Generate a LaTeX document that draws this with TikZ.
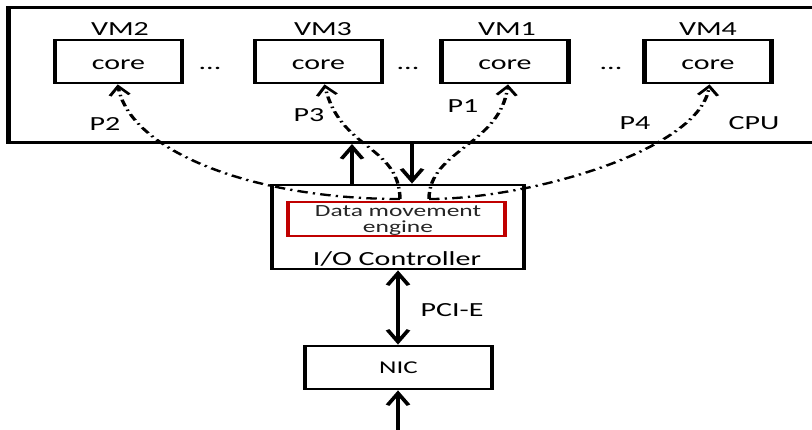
\documentclass[tikz,border=0pt]{standalone}
\usepackage{fontspec}
\setmainfont{Carlito}
\usetikzlibrary{arrows.meta}
\definecolor{engred}{RGB}{192,0,0}

\begin{document}
\begin{tikzpicture}[x=1pt,y=-1pt]
\useasboundingbox (0,0) rectangle (812,430);
% everything is drawn on a canvas stretched 1.5 times sideways;
% x coordinates below are given in final units (x = 1pt/1.5)
\begin{scope}[transform canvas={xscale=1.5}, x=0.666667pt,
  frame/.style={draw, line width=2.8pt, inner sep=0pt},
  corebox/.style={frame, minimum width=84.67pt, minimum height=43pt},
  lbl/.style={inner sep=0pt, anchor=base, font=\fontsize{20}{22}\selectfont},
  small/.style={inner sep=0pt, anchor=base, font=\fontsize{17}{19}\selectfont, text=black!85},
  bus/.style={line width=2.8pt},
  barb/.tip={Straight Barb[length=12pt,width=14pt]},
  flow/.style={line width=2.3pt, dash pattern=on 7pt off 3.5pt on 1.5pt off 3.5pt,
    -{Straight Barb[length=9pt,width=13pt,line width=2.2pt]}}
]
\clip (0,0) rectangle (812,430);

% CPU package
\node[frame, line width=3pt, anchor=north west, minimum width=560pt, minimum height=135pt] (cpu) at (6,6) {};
\node[lbl] (cpulbl) at (754,130) {CPU};

% cores with their VM labels
\node[corebox] (c2) at (118.5,61.5) {};
\node[corebox] (c3) at (318.5,61.5) {};
\node[corebox] (c1) at (505,61.5) {};
\node[corebox] (c4) at (708,61.5) {};
\node[lbl] (c2t) at (118.5,70) {core};
\node[lbl] (c3t) at (318.5,70) {core};
\node[lbl] (c1t) at (505,70) {core};
\node[lbl] (c4t) at (708,70) {core};
\node[lbl] (vm2) at (120,36) {VM2};
\node[lbl] (vm3) at (323,36) {VM3};
\node[lbl] (vm1) at (507,36) {VM1};
\node[lbl] (vm4) at (708,36) {VM4};
\node[lbl] (d1) at (210,70) {...};
\node[lbl] (d2) at (408,70) {...};
\node[lbl] (d3) at (611,70) {...};

% path labels
\node[lbl] (p2) at (105,131) {P2};
\node[lbl] (p3) at (309,122) {P3};
\node[lbl] (p1) at (463,113) {P1};
\node[lbl] (p4) at (635,130) {P4};

% I/O controller with data movement engine
\node[frame, minimum width=168pt, minimum height=84pt] (io) at (398,227) {};
\node[draw=engred, line width=2.2pt, minimum width=144.7pt, minimum height=34pt, inner sep=0pt] (dme) at (396.5,219) {};
\node[small] (dmet1) at (398,217) {Data movement};
\node[small] (dmet2) at (398,233) {engine};
\node[lbl] (iolbl) at (397,266) {I/O Controller};

% NIC
\node[frame, minimum width=124.7pt, minimum height=43pt] (nic) at (398.5,367.5) {};
\node[lbl, font=\fontsize{18}{20}\selectfont] (nict) at (398.5,374) {NIC};
\node[lbl] (pcie) at (452,317) {PCI-E};

% buses
\coordinate (upx) at (352,0);
\coordinate (dnx) at (412,0);
\coordinate (nicx) at (398,0);
\coordinate (wire) at (398,440);
\draw[bus,-{barb}] (io.north -| upx) -- (cpu.south -| upx);
\draw[bus,-{barb}] (cpu.south -| dnx) -- (io.north -| dnx);
\draw[bus,{barb}-{barb}] (io.south -| nicx) -- (nic.north -| nicx);
\draw[bus,-{barb}] (wire) -- (nic.south -| nicx);

% data paths from the engine to each core
\coordinate (sA) at (400,199);
\coordinate (sB) at (429,199);
\draw[flow] (sA) .. controls (250,199) and (130,150) .. ([xshift=-0.5pt]c2.south);
\draw[flow] (sA) .. controls (399,145) and (340,150) .. ([xshift=4pt]c3.south);
\draw[flow] (sB) .. controls (429,150) and (500,145) .. ([xshift=2pt]c1.south);
\draw[flow] (sB) .. controls (530,199) and (700,150) .. ([xshift=1pt]c4.south);
\end{scope}
\end{tikzpicture}
\end{document}
